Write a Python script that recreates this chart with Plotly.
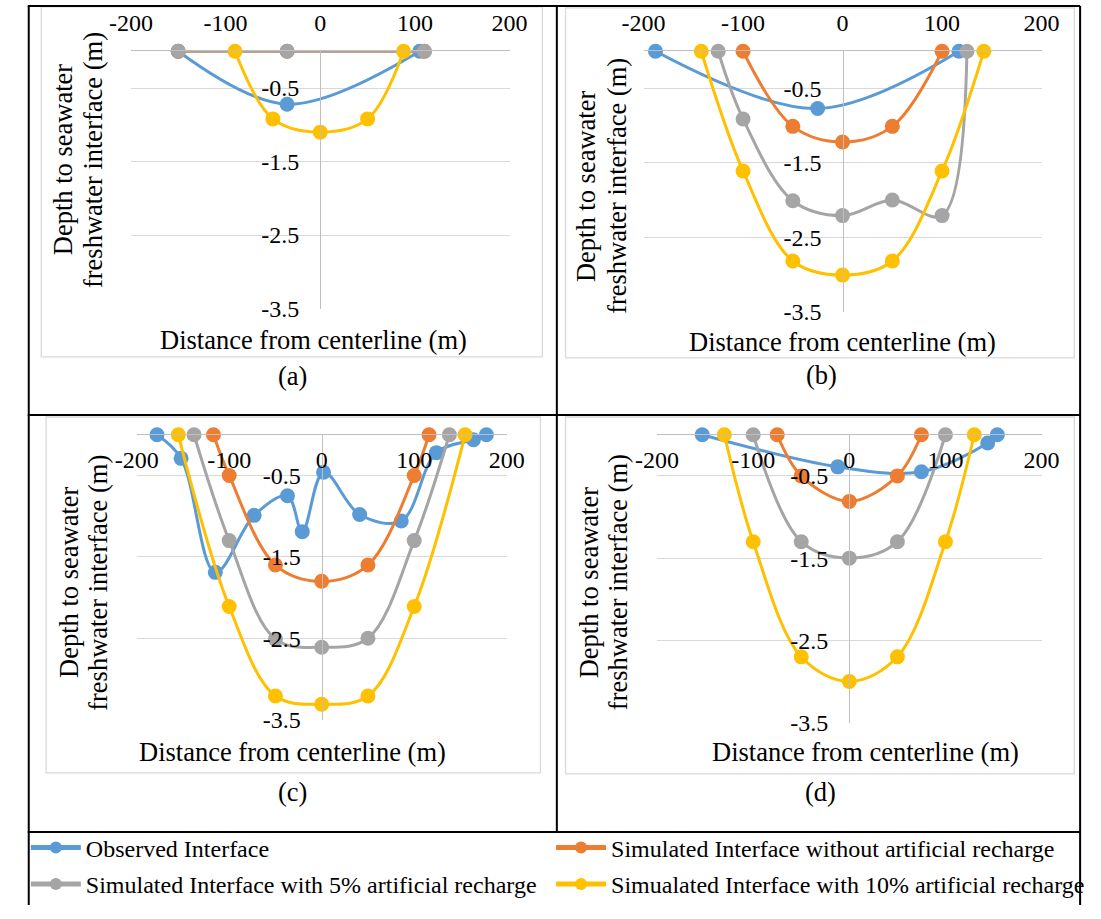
import plotly.graph_objects as go

W, H = 1101, 919
FONT = "Liberation Serif"

# ---------------- data ----------------
series_names = [
    "Observed Interface",
    "Simulated Interface without artificial recharge",
    "Simulated Interface with 5% artificial recharge",
    "Simualated Interface with 10% artificial recharge",
]
colors = ["#5B9BD5", "#ED7D31", "#A5A5A5", "#FFC000"]

x_tickvals = [-200, -100, 0, 100, 200]
x_ticktext = ["-200", "-100", "0", "100", "200"]
y_tickvals = [-3.5, -2.5, -1.5, -0.5]
y_ticktext = ["-3.5", "-2.5", "-1.5", "-0.5"]

panel_labels = ["(a)", "(b)", "(c)", "(d)"]
x_title = "Distance from centerline (m)"
y_title_1 = "Depth to seawater"
y_title_2 = "freshwater interface (m)"

# panel (a)
a_obs_x = [-150, -35, 105]
a_obs_y = [0, -0.72, 0]
a_no_x = [-150, -35, 110]
a_no_y = [0, 0, 0]
a_5_x = [-150, -35, 110]
a_5_y = [0, 0, 0]
a_10_x = [-90, -50, 0, 50, 88]
a_10_y = [0, -0.92, -1.1, -0.92, 0]

# panel (b)
b_obs_x = [-188, -25, 117]
b_obs_y = [0, -0.77, 0]
b_no_x = [-100, -50, 0, 50, 100]
b_no_y = [0, -1.01, -1.22, -1.01, 0]
b_5_x = [-125, -100, -50, 0, 50, 100, 125]
b_5_y = [0, -0.91, -2.01, -2.21, -2.0, -2.21, 0]
b_10_x = [-142, -100, -50, 0, 50, 100, 142]
b_10_y = [0, -1.61, -2.82, -3.01, -2.82, -1.61, 0]

# panel (c)
c_obs_x = [-178, -152, -115, -73, -37, -21, 2, 41, 86, 124, 164, 178]
c_obs_y = [0, -0.29, -1.69, -0.99, -0.75, -1.19, -0.46, -0.98, -1.06, -0.22, -0.06, 0]
c_no_x = [-117, -100, -50, 0, 50, 100, 116]
c_no_y = [0, -0.5, -1.6, -1.8, -1.6, -0.5, 0]
c_5_x = [-138, -100, -50, 0, 50, 100, 138]
c_5_y = [0, -1.3, -2.51, -2.61, -2.5, -1.3, 0]
c_10_x = [-155, -100, -50, 0, 50, 100, 155]
c_10_y = [0, -2.11, -3.21, -3.31, -3.21, -2.11, 0]

# panel (d)
d_obs_x = [-153, -12, 75, 144, 154]
d_obs_y = [0, -0.39, -0.45, -0.1, 0]
d_no_x = [-75, -50, 0, 50, 75]
d_no_y = [0, -0.5, -0.81, -0.5, 0]
d_5_x = [-100, -50, 0, 50, 100]
d_5_y = [0, -1.3, -1.5, -1.3, 0]
d_10_x = [-130, -100, -50, 0, 50, 100, 130]
d_10_y = [0, -1.3, -2.7, -3.0, -2.7, -1.3, 0]

panels_data = [
    [(a_obs_x, a_obs_y), (a_no_x, a_no_y), (a_5_x, a_5_y), (a_10_x, a_10_y)],
    [(b_obs_x, b_obs_y), (b_no_x, b_no_y), (b_5_x, b_5_y), (b_10_x, b_10_y)],
    [(c_obs_x, c_obs_y), (c_no_x, c_no_y), (c_5_x, c_5_y), (c_10_x, c_10_y)],
    [(d_obs_x, d_obs_y), (d_no_x, d_no_y), (d_5_x, d_5_y), (d_10_x, d_10_y)],
]

# ---------------- layout geometry (pixels) ----------------
plot_px = [
    (113, 506, 52, 313),
    (645, 1058, 52, 316),
    (119, 503, 441, 730),
    (659, 1058, 441, 733),
]
chart_box = [
    (20, 540, 7, 362),
    (564, 1092, 8, 363),
    (25, 538, 423, 784),
    (564, 1092, 423, 785),
]
ytitle_pos = [(42, 73, 162), (586, 618, 189), (48, 78, 591), (588, 618, 591)]
xtitle_pos = [(302, 345), (851, 347), (281, 763), (875, 763)]
caption_pos = [(281, 381), (830, 380), (281, 803), (829, 803)]
legend_pos = [(4, 860), (549, 860), (4, 897), (549, 897)]


def px(x):
    return x / W


def py(y):
    return 1 - y / H


fig = go.Figure()
layout = dict(
    width=W, height=H,
    margin=dict(l=0, r=0, t=0, b=0),
    paper_bgcolor="white", plot_bgcolor="rgba(0,0,0,0)",
    font=dict(family=FONT, color="black"),
    showlegend=True,
)

legend_keys = ["legend", "legend2", "legend3", "legend4"]

for i, pdata in enumerate(panels_data):
    n = i + 1
    xa = "x" if n == 1 else f"x{n}"
    ya = "y" if n == 1 else f"y{n}"
    for s, (xs, ys) in enumerate(pdata):
        fig.add_trace(go.Scatter(
            x=xs, y=ys, mode="lines+markers",
            line=dict(color=colors[s], width=3, shape="spline", smoothing=1),
            marker=dict(color=colors[s], size=15),
            name=series_names[s], showlegend=(i == 0), legend=legend_keys[s],
            xaxis=xa, yaxis=ya, cliponaxis=False,
        ))
    l, r, t, b = plot_px[i]
    top_row = i < 2
    layout["xaxis" if n == 1 else f"xaxis{n}"] = dict(
        domain=[px(l), px(r)], range=[-200, 200], anchor=ya, side="top",
        showline=True, linecolor="#BFBFBF", linewidth=1.3,
        showgrid=False, zeroline=False, ticks="",
        tickvals=x_tickvals, ticktext=x_ticktext,
        tickfont=dict(size=24, family=FONT, color="black"),
        ticklabelposition="outside" if top_row else "inside",
        ticklabeloverflow="allow",
        ticklabelstandoff=10 if top_row else 18,
    )
    layout["yaxis" if n == 1 else f"yaxis{n}"] = dict(
        domain=[py(b), py(t)], range=[-3.5, 0], anchor="free",
        position=px((l + r) / 2),
        showline=True, linecolor="#BFBFBF", linewidth=1.3,
        showgrid=True, gridcolor="#D9D9D9", gridwidth=1.3, zeroline=False,
        ticks="", tickvals=y_tickvals, ticktext=y_ticktext,
        tickfont=dict(size=24, family=FONT, color="black"),
        ticklabelstandoff=16,
    )

shapes = []
for (l, r, t, b) in chart_box:
    shapes.append(dict(type="rect", xref="paper", yref="paper",
                       x0=px(l), x1=px(r), y0=py(b), y1=py(t),
                       line=dict(color="#D9D9D9", width=1.3), layer="below"))
blk = dict(color="black", width=2)
for (x0, y0, x1, y1) in [
    (6, 6, 1098, 6), (7, 6, 7, 918), (1098, 6, 1098, 918),
    (555, 6, 555, 844), (6, 421, 1098, 421), (6, 844, 1098, 844),
]:
    shapes.append(dict(type="line", xref="paper", yref="paper",
                       x0=px(x0), x1=px(x1), y0=py(y0), y1=py(y1), line=blk))
layout["shapes"] = shapes

ann = []
for i in range(4):
    x1_, x2_, yc = ytitle_pos[i]
    for xx, txt in [(x1_, y_title_1), (x2_, y_title_2)]:
        ann.append(dict(xref="paper", yref="paper", x=px(xx), y=py(yc), text=txt,
                        textangle=-90, showarrow=False, xanchor="center", yanchor="middle",
                        font=dict(size=26.5, family=FONT, color="black")))
    xx, yy = xtitle_pos[i]
    ann.append(dict(xref="paper", yref="paper", x=px(xx), y=py(yy), text=x_title,
                    showarrow=False, xanchor="center", yanchor="middle",
                    font=dict(size=26.5, family=FONT, color="black")))
    xx, yy = caption_pos[i]
    ann.append(dict(xref="paper", yref="paper", x=px(xx), y=py(yy), text=panel_labels[i],
                    showarrow=False, xanchor="center", yanchor="middle",
                    font=dict(size=26.5, family=FONT, color="black")))
layout["annotations"] = ann

for key, (lx, ly) in zip(legend_keys, legend_pos):
    layout[key] = dict(
        orientation="v", xanchor="left", yanchor="middle",
        x=px(lx), y=py(ly), itemwidth=50,
        itemsizing="constant", bgcolor="rgba(0,0,0,0)",
        font=dict(size=24, family=FONT, color="black"),
        itemclick=False, itemdoubleclick=False,
    )

fig.update_layout(**layout)
fig.write_html("out.html")
